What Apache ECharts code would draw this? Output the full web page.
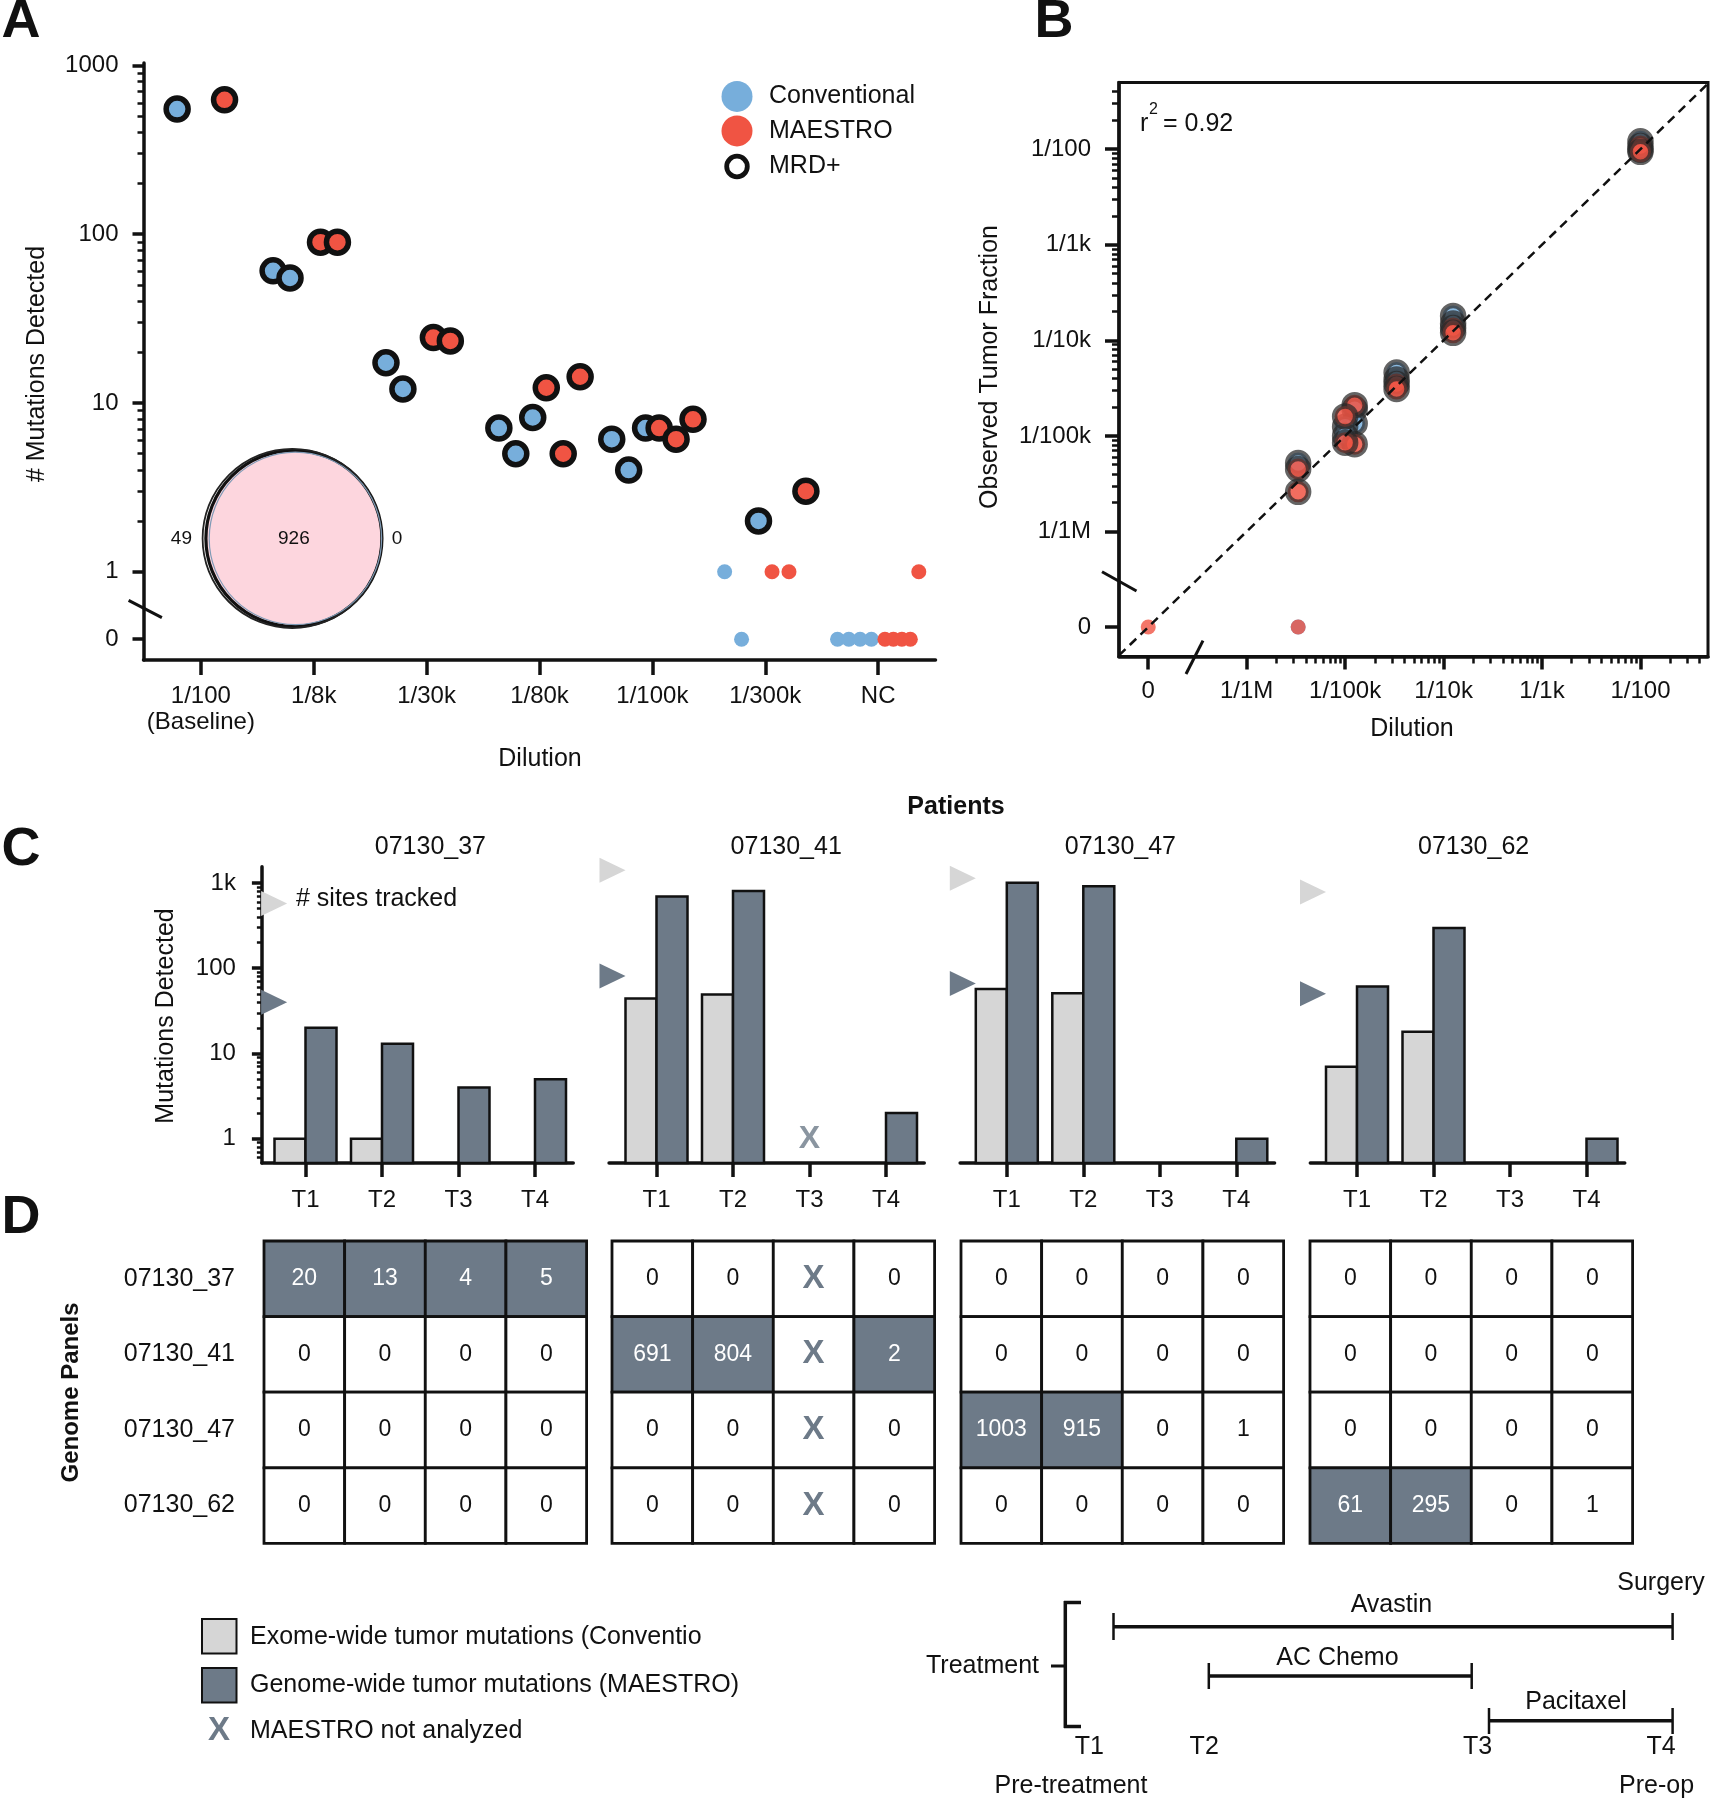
<!DOCTYPE html>
<html>
<head>
<meta charset="utf-8">
<title>MAESTRO figure</title>
<script src="https://cdn.jsdelivr.net/npm/echarts@6.0.0/dist/echarts.min.js"></script>
<style>
html,body{margin:0;padding:0;background:#ffffff;}
#chart{width:1710px;height:1800px;}
</style>
</head>
<body>
<div id="chart"></div>
<script>
// ================= DATA =================
// Panel A: mutations detected per dilution, replicates (null = no replicate)
const dilutionLabels = ['1/100\n(Baseline)', '1/8k', '1/30k', '1/80k', '1/100k', '1/300k', 'NC'];
const convReplicates = [
  [null, 551, null],
  [60.6, 55, null],
  [17.3, 12.1, null],
  [7.1, 5.0, 8.2],
  [6.1, 4.0, 7.1],
  [1, 0, 2],
  [0, 0, 0, 0]
];
const maestroReplicates = [
  [null, 625, null],
  [89.6, 89.6, null],
  [24.4, 23.3, null],
  [12.3, 5.0, 14.3],
  [7.1, 6.1, 8.0],
  [1, 1, 3],
  [0, 0, 0, 0, 1]
];
const mrdThreshold = 2;
const aTickValues = [0, 1, 10, 100, 1000];
const aTickLabels = ['0', '1', '10', '100', '1000'];
const vennCounts = [49, 926, 0];

// Panel B: [dilution, observed tumor fraction]
const bConventional = [
  [1/100, 0.0121], [1/100, 0.0099],
  [1/8000, 1.8e-4], [1/8000, 1.5e-4],
  [1/30000, 4.6e-5], [1/30000, 3.9e-5],
  [1/80000, 1.9e-5], [1/80000, 1.35e-5],
  [1/100000, 1.25e-5], [1/100000, 1.0e-5],
  [1/300000, 5.2e-6], [1/300000, 0]
];
const bMaestro = [
  [1/100, 0.0108], [1/100, 0.0094],
  [1/8000, 1.35e-4], [1/8000, 1.2e-4],
  [1/30000, 3.5e-5], [1/30000, 3.1e-5],
  [1/80000, 2.1e-5], [1/80000, 8.2e-6],
  [1/100000, 1.6e-5], [1/100000, 8.5e-6],
  [1/300000, 4.5e-6], [1/300000, 2.6e-6],
  [0, 0], [1/300000, 0]
];
const bTickValues = [0, 1e-6, 1e-5, 1e-4, 1e-3, 1e-2];
const bTickLabels = ['0', '1/1M', '1/100k', '1/10k', '1/1k', '1/100'];
const rSquared = '0.92';

// Panels C & D
const patients = ['07130_37', '07130_41', '07130_47', '07130_62'];
const timepoints = ['T1', 'T2', 'T3', 'T4'];
const conventionalDetected = [[1, 1, 0, 0], [44, 49, 0, 0], [57, 51, 0, 0], [7, 18, 0, 0]];
const sitesTrackedConventional = [573, 1410, 1135, 782];
const sitesTrackedMaestro = [40, 81, 66, 50];
const cTickValues = [1, 10, 100, 1000];
const cTickLabels = ['1', '10', '100', '1k'];
// panelCounts[sample][genome panel][timepoint]; null = MAESTRO not analyzed
const panelCounts = [
  [[20, 13, 4, 5], [0, 0, 0, 0], [0, 0, 0, 0], [0, 0, 0, 0]],
  [[0, 0, null, 0], [691, 804, null, 2], [0, 0, null, 0], [0, 0, null, 0]],
  [[0, 0, 0, 0], [0, 0, 0, 0], [1003, 915, 0, 1], [0, 0, 0, 0]],
  [[0, 0, 0, 0], [0, 0, 0, 0], [0, 0, 0, 0], [61, 295, 0, 1]]
];
const treatments = ['Avastin', 'AC Chemo', 'Pacitaxel'];

// ================= STYLE / LAYOUT =================
const FONT = "'Liberation Sans', Arial, Helvetica, sans-serif";
const INK = '#111111';
const BLUE = '#77aedb', RED = '#f05443', DARK = '#6d7a88', LIGHT = '#d6d6d6', PINK = '#fdd6de';
const TXT = 25;
const log10 = Math.log10;

const A_ZERO = -0.4, A_MIN = -0.523, A_MAX = 3.014, A_SLOT = [0.06, 0.36];
const B_ZERO = -7, B_XMIN = -7.297, B_XMAX = -1.314, B_YMIN = -7.309, B_YMAX = -1.303;
const C_YMIN = -0.284, C_YMAX = 3.19, C_UNIT = 76.5, C_XMAX = 3.5, C_BAR_W = 31;
const cXMin = [-0.57, -0.62, -0.61, -0.61];
const cT1 = [305.5, 656.5, 1006.8, 1357];
const triX = [-0.41, -0.575, -0.575, -0.575];
const dLeft = [264, 612, 961, 1310];

function aY(v) { return v === 0 ? A_ZERO : log10(v); }
function bV(v) { return v === 0 ? B_ZERO : log10(v); }
function minorTicks(lo, hi, min, max) {
  const out = [];
  for (let n = lo; n <= hi; n++) for (let k = 2; k <= 9; k++) {
    const v = n + log10(k);
    if (v > min && v < max) out.push(v);
  }
  return out;
}
function labelLookup(vals, labels) {
  return function (v) {
    for (let i = 0; i < vals.length; i++) if (Math.abs(vals[i] - v) < 1e-6) return labels[i];
    return '';
  };
}
function slotOffset(k, n, side) {
  const f = n > 1 ? k / (n - 1) : 0.5;
  const span = A_SLOT[1] - A_SLOT[0];
  return side < 0 ? -(A_SLOT[1] - span * f) : A_SLOT[0] + span * f;
}
function buildA(reps, side, mrd) {
  const out = [];
  reps.forEach(function (arr, ci) {
    arr.forEach(function (v, k) {
      if (v === null) return;
      if ((v >= mrdThreshold) !== mrd) return;
      out.push([ci + slotOffset(k, arr.length, side), aY(v)]);
    });
  });
  return out;
}

function valAxis(o) {
  return {
    type: 'value', gridIndex: o.grid, min: o.min, max: o.max, position: o.pos,
    show: o.show !== false,
    axisLine: { show: !!o.line, onZero: false, lineStyle: { color: INK, width: 3.5 } },
    axisTick: o.ticks ? { show: true, customValues: o.ticks, length: o.tickLen || 10, inside: false,
      lineStyle: { color: INK, width: o.tickW || 3 } } : { show: false },
    axisLabel: o.labels ? { show: true, customValues: o.ticks, formatter: o.labels, fontSize: 24,
      color: INK, fontFamily: FONT, margin: o.margin, lineHeight: 26 } : { show: false },
    splitLine: { show: false }, minorTick: { show: false }, splitArea: { show: false }
  };
}

// ================= GRIDS & AXES =================
const grids = [
  { left: 143.5, top: 63, width: 792, height: 597 },
  { left: 1119, top: 82.6, width: 589, height: 574, show: true, borderColor: INK, borderWidth: 3, backgroundColor: 'transparent' }
];
for (let g = 0; g < 4; g++) {
  grids.push({ left: cT1[g] + cXMin[g] * C_UNIT, top: 866.7, width: (C_XMAX - cXMin[g]) * C_UNIT, height: 296.3 });
}
for (let g = 0; g < 4; g++) {
  grids.push({ left: dLeft[g], top: 1241, width: 322.6, height: 302.4 });
}
grids.forEach(function (gr) { gr.containLabel = false; gr.outerBoundsMode = 'none'; });

const aTicks = aTickValues.map(aY);
const bTicks = bTickValues.map(bV);
const cTicks = cTickValues.map(log10);

const xAxes = [
  valAxis({ grid: 0, min: -0.508, max: 6.508, pos: 'bottom', line: true, ticks: [0, 1, 2, 3, 4, 5, 6], tickLen: 15, tickW: 3.5,
    labels: function (v) { return dilutionLabels[Math.round(v)]; }, margin: 23 }),
  valAxis({ grid: 1, min: B_XMIN, max: B_XMAX, pos: 'bottom', line: true, ticks: bTicks, tickLen: 13, tickW: 3.5,
    labels: labelLookup(bTicks, bTickLabels), margin: 22 }),
  valAxis({ grid: 1, min: B_XMIN, max: B_XMAX, pos: 'bottom', line: false, ticks: minorTicks(-6, -2, B_XMIN, B_XMAX), tickLen: 7, tickW: 2.5 })
];
for (let g = 0; g < 4; g++) {
  xAxes.push(valAxis({ grid: 2 + g, min: cXMin[g], max: C_XMAX, pos: 'bottom', line: true, ticks: [0, 1, 2, 3], tickLen: 14, tickW: 3.5,
    labels: function (v) { return timepoints[Math.round(v)]; }, margin: 24 }));
}
for (let g = 0; g < 4; g++) {
  xAxes.push({ type: 'category', gridIndex: 6 + g, data: timepoints, show: false });
}

const yAxes = [
  valAxis({ grid: 0, min: A_MIN, max: A_MAX, pos: 'left', line: true, ticks: aTicks, tickLen: 11, tickW: 3.5,
    labels: labelLookup(aTicks, aTickLabels), margin: 25 }),
  valAxis({ grid: 0, min: A_MIN, max: A_MAX, pos: 'left', line: false, ticks: minorTicks(0, 2, A_MIN, A_MAX), tickLen: 6, tickW: 2.5 }),
  valAxis({ grid: 1, min: B_YMIN, max: B_YMAX, pos: 'left', line: true, ticks: bTicks, tickLen: 14, tickW: 3.5,
    labels: labelLookup(bTicks, bTickLabels), margin: 28 }),
  valAxis({ grid: 1, min: B_YMIN, max: B_YMAX, pos: 'left', line: false, ticks: minorTicks(-6, -2, B_YMIN, B_YMAX), tickLen: 7, tickW: 2.5 }),
  valAxis({ grid: 2, min: C_YMIN, max: C_YMAX, pos: 'left', line: true, ticks: cTicks, tickLen: 10, tickW: 3.5,
    labels: labelLookup(cTicks, cTickLabels), margin: 26 }),
  valAxis({ grid: 2, min: C_YMIN, max: C_YMAX, pos: 'left', line: false, ticks: minorTicks(-1, 3, C_YMIN, C_YMAX), tickLen: 5, tickW: 2.5 })
];
for (let g = 1; g < 4; g++) {
  yAxes.push(valAxis({ grid: 2 + g, min: C_YMIN, max: C_YMAX, pos: 'left', show: false }));
}
for (let g = 0; g < 4; g++) {
  yAxes.push({ type: 'category', gridIndex: 6 + g, data: patients, inverse: true, show: g === 0,
    axisLine: { show: false }, axisTick: { show: false }, splitLine: { show: false },
    axisLabel: { fontSize: TXT, color: INK, fontFamily: FONT, margin: 29 } });
}

// ================= SERIES =================
const series = [];
// Panel A
series.push(
  { type: 'scatter', xAxisIndex: 0, yAxisIndex: 0, silent: true, data: buildA(convReplicates, -1, false), symbolSize: 15, itemStyle: { color: BLUE, opacity: 1 } },
  { type: 'scatter', xAxisIndex: 0, yAxisIndex: 0, silent: true, data: buildA(maestroReplicates, 1, false), symbolSize: 15, itemStyle: { color: RED, opacity: 1 } },
  { type: 'scatter', xAxisIndex: 0, yAxisIndex: 0, silent: true, data: buildA(convReplicates, -1, true), symbolSize: 22, itemStyle: { color: BLUE, borderColor: INK, borderWidth: 5.5, opacity: 1 } },
  { type: 'scatter', xAxisIndex: 0, yAxisIndex: 0, silent: true, data: buildA(maestroReplicates, 1, true), symbolSize: 22, itemStyle: { color: RED, borderColor: INK, borderWidth: 5.5, opacity: 1 } }
);
// Panel B
function bPts(arr, zero) {
  return arr.filter(function (p) { return zero ? p[1] === 0 : p[1] > 0; }).map(function (p) { return [bV(p[0]), bV(p[1])]; });
}
series.push(
  { type: 'scatter', xAxisIndex: 1, yAxisIndex: 2, silent: true, clip: false, data: bPts(bConventional, true), symbolSize: 15, itemStyle: { color: BLUE, opacity: 1 } },
  { type: 'scatter', xAxisIndex: 1, yAxisIndex: 2, silent: true, clip: false, data: bPts(bMaestro, true), symbolSize: 15, itemStyle: { color: RED, opacity: 0.8 } },
  { type: 'scatter', xAxisIndex: 1, yAxisIndex: 2, silent: true, data: bPts(bConventional, false), symbolSize: 21,
    itemStyle: { color: BLUE, borderColor: 'rgba(40,40,40,0.85)', borderWidth: 5.5, opacity: 0.85 } },
  { type: 'scatter', xAxisIndex: 1, yAxisIndex: 2, silent: true, data: bPts(bMaestro, false), symbolSize: 21,
    itemStyle: { color: RED, borderColor: 'rgba(40,40,40,0.85)', borderWidth: 5.5, opacity: 0.85 } },
  { type: 'line', xAxisIndex: 1, yAxisIndex: 2, silent: true, symbol: 'none', z: 5,
    data: [[B_XMIN, B_XMIN], [B_XMAX, B_XMAX]], lineStyle: { color: INK, width: 2.5, type: [9, 6] } }
);
// Panel C
function barRender(params, api) {
  const t = api.value(0), lv = api.value(1), kind = api.value(2);
  const base = api.coord([t, C_YMIN]);
  const top = api.coord([t, lv]);
  return {
    type: 'rect',
    shape: { x: kind === 0 ? base[0] - C_BAR_W : base[0], y: top[1], width: C_BAR_W, height: base[1] - top[1] },
    style: { fill: kind === 0 ? LIGHT : DARK, stroke: INK, lineWidth: 2.5 }
  };
}
const triPath = 'path://M0,0L10,5L0,10Z';
for (let g = 0; g < 4; g++) {
  const xi = 3 + g, yi = g === 0 ? 4 : 5 + g;
  const bars = [], xs = [];
  for (let t = 0; t < 4; t++) {
    const cv = conventionalDetected[g][t];
    const mv = panelCounts[g][g][t];
    if (cv > 0) bars.push([t, log10(cv), 0]);
    if (mv !== null && mv > 0) bars.push([t, log10(mv), 1]);
    if (mv === null) xs.push([t, 0]);
  }
  series.push({ type: 'custom', xAxisIndex: xi, yAxisIndex: yi, silent: true, renderItem: barRender, encode: { x: 0, y: 1 }, data: bars, z: 3 });
  series.push({ type: 'scatter', xAxisIndex: xi, yAxisIndex: yi, silent: true, clip: false, symbol: triPath, symbolSize: [26, 25],
    data: [[triX[g], log10(sitesTrackedConventional[g])]], itemStyle: { color: LIGHT, opacity: 1 } });
  series.push({ type: 'scatter', xAxisIndex: xi, yAxisIndex: yi, silent: true, clip: false, symbol: triPath, symbolSize: [26, 25],
    data: [[triX[g], log10(sitesTrackedMaestro[g])]], itemStyle: { color: DARK, opacity: 1 } });
  if (xs.length) {
    series.push({ type: 'scatter', xAxisIndex: xi, yAxisIndex: yi, silent: true, clip: false, symbolSize: 1, data: xs,
      itemStyle: { color: 'rgba(0,0,0,0)' },
      label: { show: true, position: 'inside', formatter: 'X', color: DARK, fontSize: 32, fontWeight: 'bold', fontFamily: FONT } });
  }
}
// Panel D
for (let g = 0; g < 4; g++) {
  const cells = [];
  for (let r = 0; r < 4; r++) for (let t = 0; t < 4; t++) {
    const v = panelCounts[g][r][t];
    cells.push({ t: t, r: r, v: v, dark: r === g && v !== null && v >= mrdThreshold });
  }
  series.push({
    type: 'custom', xAxisIndex: 7 + g, yAxisIndex: 9 + g, silent: true, encode: { x: 0, y: 1 },
    data: cells.map(function (c) { return [c.t, c.r]; }),
    renderItem: function (params, api) {
      const c = cells[params.dataIndex];
      const p = api.coord([c.t, c.r]);
      const s = api.size([1, 1]);
      const isX = c.v === null;
      return {
        type: 'group',
        children: [
          { type: 'rect', shape: { x: p[0] - s[0] / 2, y: p[1] - s[1] / 2, width: s[0], height: s[1] },
            style: { fill: c.dark ? DARK : '#ffffff', stroke: INK, lineWidth: 2.8 } },
          { type: 'text', style: { x: p[0], y: p[1], text: isX ? 'X' : String(c.v), align: 'center', verticalAlign: 'middle',
            fill: isX ? DARK : (c.dark ? '#ffffff' : INK), fontSize: isX ? 33 : 23, fontWeight: isX ? 'bold' : 'normal', fontFamily: FONT } }
        ]
      };
    }
  });
}

// ================= ANNOTATIONS =================
const graphics = [];
function txt(x, y, text, o) {
  o = o || {};
  graphics.push({ type: 'text', x: x, y: y, rotation: o.rot || 0, silent: true, z: 100,
    style: { text: text, fill: o.color || INK, fontSize: o.size || TXT, fontWeight: o.weight || 'normal', fontFamily: FONT,
      align: o.align || 'center', verticalAlign: 'middle' } });
}
function seg(x1, y1, x2, y2, w) {
  graphics.push({ type: 'line', silent: true, z: 100, shape: { x1: x1, y1: y1, x2: x2, y2: y2 }, style: { stroke: INK, lineWidth: w || 3 } });
}
function circ(cx, cy, r, fill, stroke, lw) {
  graphics.push({ type: 'circle', silent: true, z: 100, shape: { cx: cx, cy: cy, r: r }, style: { fill: fill, stroke: stroke, lineWidth: lw || 0 } });
}
// panel letters
txt(21, 22, 'A', { size: 54, weight: 'bold' });
txt(1054, 22, 'B', { size: 54, weight: 'bold' });
txt(21, 850, 'C', { size: 54, weight: 'bold' });
txt(21, 1218, 'D', { size: 54, weight: 'bold' });
// Panel A
txt(37, 364, '# Mutations Detected', { rot: Math.PI / 2 });
txt(540, 759, 'Dilution');
circ(737, 96.4, 15.5, BLUE, null, 0);
circ(737, 130.9, 15.5, RED, null, 0);
circ(737, 166.5, 10.3, '#ffffff', INK, 4.8);
txt(769, 96.4, 'Conventional', { align: 'left' });
txt(769, 130.9, 'MAESTRO', { align: 'left' });
txt(769, 166.5, 'MRD+', { align: 'left' });
circ(293.9, 538.4, 88, PINK, INK, 3.2);
circ(292.2, 538.4, 89.6, null, '#222222', 1.8);
circ(295.4, 538.4, 86.2, null, '#7f9bb6', 1.2);
txt(181.4, 538.4, String(vennCounts[0]), { size: 19 });
txt(293.9, 538.4, String(vennCounts[1]), { size: 19 });
txt(397, 538.4, String(vennCounts[2]), { size: 19 });
seg(128.6, 600.4, 161.9, 617.6, 3);
// Panel B
txt(990, 367, 'Observed Tumor Fraction', { rot: Math.PI / 2 });
txt(1412, 729, 'Dilution');
txt(1140, 124, 'r', { align: 'left' });
txt(1149, 110, '2', { align: 'left', size: 16 });
txt(1163, 124, '= ' + rSquared, { align: 'left' });
seg(1102, 571.7, 1136.5, 591, 3);
seg(1186, 674, 1203, 640.6, 3);
// Panel C
txt(956, 807, 'Patients', { weight: 'bold' });
[430.4, 786.2, 1120.4, 1473.6].forEach(function (x, i) { txt(x, 847, patients[i]); });
txt(166.5, 1016, 'Mutations Detected', { rot: Math.PI / 2 });
txt(296, 899, '# sites tracked', { align: 'left' });
// Panel D
txt(71, 1392.5, 'Genome Panels', { rot: Math.PI / 2, weight: 'bold', size: 24 });
graphics.push({ type: 'rect', silent: true, z: 100, shape: { x: 202, y: 1619, width: 34.5, height: 34.5 }, style: { fill: LIGHT, stroke: INK, lineWidth: 2 } });
graphics.push({ type: 'rect', silent: true, z: 100, shape: { x: 202, y: 1668, width: 34.5, height: 34.5 }, style: { fill: DARK, stroke: INK, lineWidth: 2 } });
txt(250, 1637, 'Exome-wide tumor mutations (Conventio', { align: 'left' });
txt(250, 1685, 'Genome-wide tumor mutations (MAESTRO)', { align: 'left' });
txt(219, 1731, 'X', { size: 33, weight: 'bold', color: DARK });
txt(250, 1731, 'MAESTRO not analyzed', { align: 'left' });
// timeline
txt(1039, 1666, 'Treatment', { align: 'right' });
seg(1051, 1666, 1066, 1666, 3);
seg(1065.3, 1601, 1065.3, 1728, 3.5);
seg(1064, 1602.5, 1081, 1602.5, 3.5);
seg(1064, 1726.5, 1081, 1726.5, 3.5);
seg(1113.5, 1626.7, 1672.6, 1626.7, 3.5);
seg(1113.5, 1613, 1113.5, 1640, 2.5);
seg(1672.6, 1613, 1672.6, 1640, 2.5);
txt(1391.4, 1605, treatments[0]);
seg(1208.8, 1676, 1471.7, 1676, 3.5);
seg(1208.8, 1663, 1208.8, 1689, 2.5);
seg(1471.7, 1663, 1471.7, 1689, 2.5);
txt(1337.4, 1657.7, treatments[1]);
seg(1489, 1720.8, 1672.6, 1720.8, 3.5);
seg(1489, 1708, 1489, 1734, 2.5);
seg(1672.6, 1708, 1672.6, 1734, 2.5);
txt(1576, 1702.5, treatments[2]);
txt(1661, 1583, 'Surgery');
[1089.4, 1204.2, 1477.5, 1661.1].forEach(function (x, i) { txt(x, 1747.3, timepoints[i]); });
txt(1071, 1786, 'Pre-treatment');
txt(1656.6, 1786, 'Pre-op');

// ================= RENDER =================
const chart = echarts.init(document.getElementById('chart'), null, { renderer: 'canvas', width: 1710, height: 1800 });
chart.setOption({
  animation: false,
  backgroundColor: '#ffffff',
  textStyle: { fontFamily: FONT, color: INK },
  grid: grids,
  xAxis: xAxes,
  yAxis: yAxes,
  series: series,
  graphic: { elements: graphics }
});
</script>
</body>
</html>
